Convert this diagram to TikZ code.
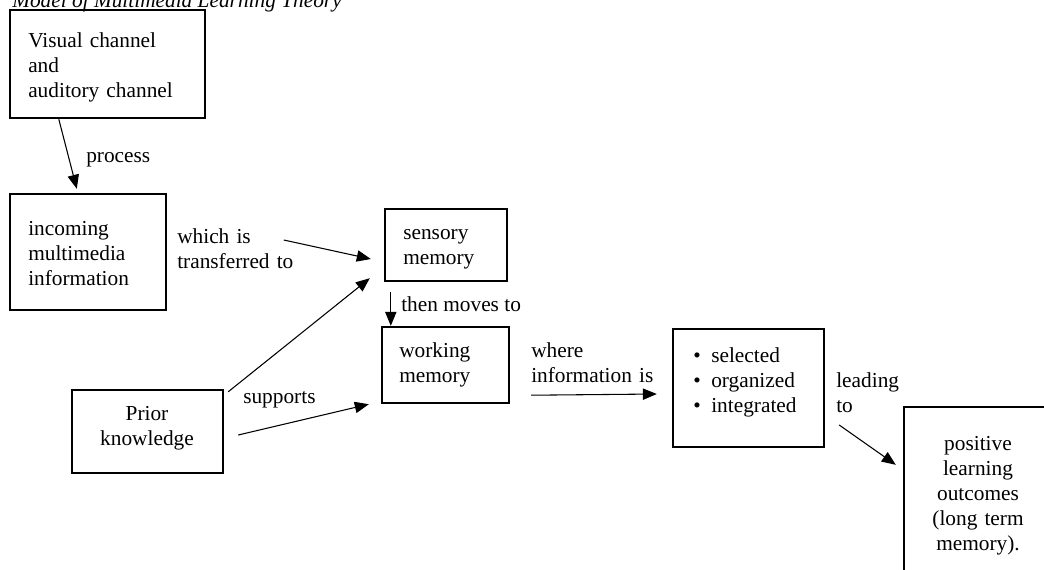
\documentclass[tikz,border=0pt]{standalone}
\usepackage{fontspec}
\setmainfont{Liberation Serif}
\usetikzlibrary{arrows.meta,calc,fit}
\begin{document}
\begin{tikzpicture}[x=0.75pt,y=-0.75pt,
  box/.style={draw, line width=1.8pt, inner sep=0pt},
  txt/.style={inner sep=0pt, font=\fontsize{16}{18.75}\selectfont},
  mtxt/.style={txt, text width=150pt, align=left, anchor=base west},
  ctxt/.style={txt, text width=120pt, align=center, anchor=base},
  arr/.style={line width=0.8pt, -{Triangle[length=10.5pt,width=8.5pt]}}]
\useasboundingbox (0,0) rectangle (1044,569);
\clip (0,0) rectangle (1044,569);
% title (cut off at the top edge, as in the reference)
\node[txt, anchor=base west, font=\fontsize{16}{18.75}\selectfont\itshape] (title) at (12,7) {Model of Multimedia Learning Theory};
% boxes
\node[box, fit={(10,10) (205,118)}] (vis) {};
\node[box, fit={(10,194) (166,310)}] (inc) {};
\node[box, fit={(385,209) (507,281)}] (sens) {};
\node[box, fit={(382,327) (509,403)}] (work) {};
\node[box, fit={(673,329) (824,447)}] (sel) {};
\node[box, fit={(72,390) (223,473)}] (prior) {};
\node[box, fit={(904,407) (1070,600)}] (pos) {};
% box texts
\node[mtxt] (visT) at (28,47) {Visual channel\\and\\auditory channel};
\node[mtxt] (incT) at (28,235) {incoming\\multimedia\\information};
\node[mtxt] (sensT) at (403,239) {sensory\\memory};
\node[mtxt] (workT) at (399,357) {working\\memory};
\node[mtxt] (selT) at (693,362) {\makebox[13.5pt][l]{\textbullet}selected\\\makebox[13.5pt][l]{\textbullet}organized\\\makebox[13.5pt][l]{\textbullet}integrated};
\node[ctxt] (priorT) at (147,420) {Prior\\knowledge};
\node[ctxt] (posT) at (978,450) {positive\\learning\\outcomes\\(long term\\memory).};
% labels
\node[txt, anchor=base west] (process) at (86,162) {process};
\node[mtxt] (which) at (177,243) {which is\\transferred to};
\node[txt, anchor=base west] (then) at (401,311) {then moves to};
\node[txt, anchor=base west] (supports) at (243,403) {supports};
\node[mtxt] (where) at (531,357) {where\\information is};
\node[mtxt] (leading) at (836,387) {leading\\to};
% arrows
\draw[arr] ($(vis.south west)+(50,0)$) -- ($(inc.north west)+(68,-4)$);
\draw[arr] ($(sens.west)+(-100,-5)$) -- ($(sens.west)+(-13,14)$);
\draw[arr] ($(prior.north east)+(4,3)$) -- ($(sens.south west)+(-14,-4)$);
\draw[arr] ($(prior.east)+(14,3.5)$) -- ($(work.south west)+(-12,0)$);
\draw[arr] ($(sens.south west)+(7,10)$) -- ($(work.north west)+(10,0)$);
\draw[arr] ($(work.south east)+(21,-9)$) -- ($(sel.west)+(-15,6)$);
\draw[arr] ($(sel.east)+(14,37)$) -- ($(pos.north west)+(-7,59)$);
\end{tikzpicture}
\end{document}
